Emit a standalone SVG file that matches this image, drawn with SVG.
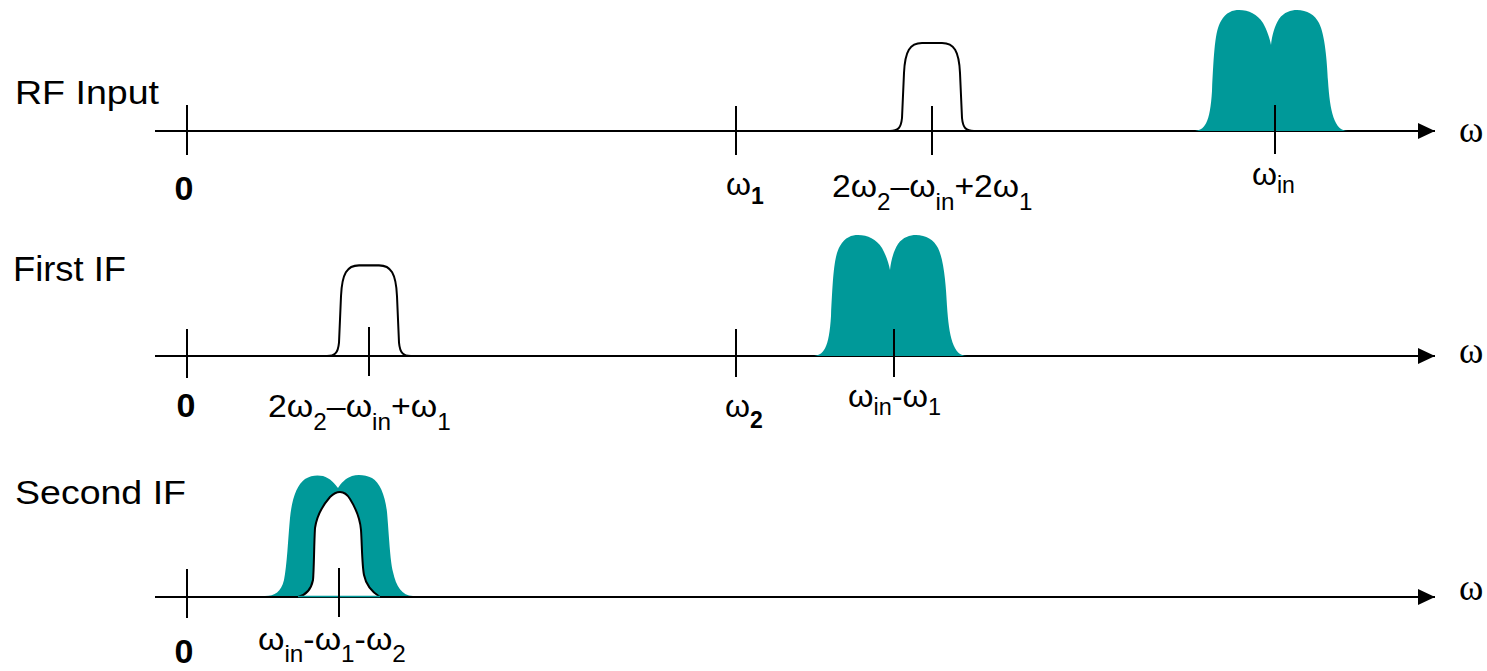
<svg xmlns="http://www.w3.org/2000/svg" width="1487" height="671" viewBox="0 0 1487 671">
<style>
.axis{stroke:#000;stroke-width:2;fill:none}
.tick{stroke:#000;stroke-width:2}
.teal{fill:#009999;stroke:none}
.filt{fill:none;stroke:#000;stroke-width:2}
.t{font-family:"Liberation Sans",Arial,sans-serif;font-size:32px;fill:#000}
.b{font-weight:bold}
.z{font-size:34px}
.w{font-family:"Liberation Serif","Times New Roman",serif;font-size:37px;fill:#000}
.s{font-size:23px}
</style>
<defs>
<marker id="arr" markerWidth="17" markerHeight="16" viewBox="0 0 17 16" refX="17" refY="8" markerUnits="userSpaceOnUse" orient="auto">
<path d="M0,0 L17,8 L0,16 Z" fill="#000"/>
</marker>
<path id="hump" d="M-78,0 C-66,0 -61,-8 -59,-40 C-57,-80 -56,-100 -50,-110 C-45,-119 -38,-121 -32,-121 C-22,-121 -14,-117 -8,-108 C-4,-101 -1,-92 0,-86 C1,-96 4,-106 8,-112 C13,-119 20,-121 26,-121 C36,-121 44,-116 48,-108 C54,-96 56,-70 57,-50 C59,-20 63,0 77,0 Z"/>
<path id="filter" d="M-42,0 C-34,0 -31,-3 -30,-13 L-28,-58 C-27,-80 -22,-88 -10,-88 L10,-88 C22,-88 27,-80 28,-58 L30,-13 C31,-3 34,0 42,0"/>
</defs>

<g id="connectors">
<line class="axis" x1="155" y1="131" x2="1435" y2="131" marker-end="url(#arr)"/>
<line class="axis" x1="155" y1="356" x2="1435" y2="356" marker-end="url(#arr)"/>
<line class="axis" x1="155" y1="597" x2="1435" y2="597" marker-end="url(#arr)"/>
</g>

<g id="rf-input">
<text class="t" x="15" y="104" style="font-size:34px" textLength="144" lengthAdjust="spacingAndGlyphs">RF Input</text>
<use href="#hump" class="teal" transform="translate(1271,131)"/>
<use href="#filter" class="filt" transform="translate(932,131)"/>
<line class="tick" x1="187" y1="105" x2="187" y2="155"/>
<line class="tick" x1="736" y1="106" x2="736" y2="155"/>
<line class="tick" x1="932" y1="106" x2="932" y2="155"/>
<line class="tick" x1="1275" y1="105" x2="1275" y2="154"/>
<text class="t b z" x="184" y="200" text-anchor="middle">0</text>
<text class="t" x="726" y="195">ω<tspan class="s b" dy="9">1</tspan></text>
<text class="t" transform="translate(832,197) scale(1.053,1)" x="0" y="0">2ω<tspan class="s" dy="13">2</tspan><tspan dy="-13">–ω</tspan><tspan class="s" dy="13">in</tspan><tspan dy="-13">+2ω</tspan><tspan class="s" dy="13">1</tspan></text>
<text class="t" x="1252" y="185">ω<tspan class="s" dy="8">in</tspan></text>
<text class="w" x="1459" y="142">ω</text>
</g>

<g id="first-if">
<text class="t" x="13" y="281" style="font-size:35px" textLength="113" lengthAdjust="spacingAndGlyphs">First IF</text>
<use href="#hump" class="teal" transform="translate(890,356)"/>
<use href="#filter" class="filt" transform="translate(369,356) scale(1,1.03)"/>
<line class="tick" x1="187" y1="329" x2="187" y2="378"/>
<line class="tick" x1="369" y1="327" x2="369" y2="376"/>
<line class="tick" x1="736" y1="329" x2="736" y2="377"/>
<line class="tick" x1="894" y1="329" x2="894" y2="377"/>
<text class="t b z" x="186" y="417" text-anchor="middle">0</text>
<text class="t" transform="translate(268,417) scale(1.058,1)" x="0" y="0">2ω<tspan class="s" dy="13">2</tspan><tspan dy="-13">–ω</tspan><tspan class="s" dy="13">in</tspan><tspan dy="-13">+ω</tspan><tspan class="s" dy="13">1</tspan></text>
<text class="t" x="725" y="417">ω<tspan class="s b" dy="11">2</tspan></text>
<text class="t" transform="translate(848,407) scale(1.02,1)" x="0" y="0">ω<tspan class="s" dy="8">in</tspan><tspan dy="-8">-ω</tspan><tspan class="s" dy="8">1</tspan></text>
<text class="w" x="1459" y="363">ω</text>
</g>

<g id="second-if">
<text class="t" x="15" y="504" style="font-size:34px" textLength="171" lengthAdjust="spacingAndGlyphs">Second IF</text>
<path class="teal" d="M265,596 C275,596 281,592 284,580 C287,565 288,540 290,518 C292,498 297,485 305,479 C311,475 318,475 323,476 C330,478 335,484 338,488 C341,483 346,478 352,476 C358,474 366,475 372,478 C380,483 385,495 387,512 C389,535 390,560 393,572 C396,586 402,596 413,596 Z"/>
<path d="M298,597 C306,595 311,590 313,580 C314,570 314,545 315,528 C317,515 323,505 330,497 C334,493 337,492 340,492 C344,492 347,494 350,499 C355,507 360,518 361,530 C362,545 362,565 364,575 C366,585 372,592 380,597 Z" fill="#fff" stroke="none"/>
<path class="filt" d="M298,597 C306,595 311,590 313,580 C314,570 314,545 315,528 C317,515 323,505 330,497 C334,493 337,492 340,492 C344,492 347,494 350,499 C355,507 360,518 361,530 C362,545 362,565 364,575 C366,585 372,592 380,597"/>
<line x1="298" y1="596.5" x2="380" y2="596.5" stroke="#009999" stroke-width="1.5"/>
<line class="tick" x1="187" y1="569" x2="187" y2="618"/>
<line class="tick" x1="339" y1="568" x2="339" y2="617"/>
<text class="t b z" x="184" y="663" text-anchor="middle">0</text>
<text class="t" transform="translate(258,650) scale(1.058,1)" x="0" y="0">ω<tspan class="s" dy="12">in</tspan><tspan dy="-12">-ω</tspan><tspan class="s" dy="12">1</tspan><tspan dy="-12">-ω</tspan><tspan class="s" dy="12">2</tspan></text>
<text class="w" x="1459" y="600">ω</text>
</g>
</svg>
